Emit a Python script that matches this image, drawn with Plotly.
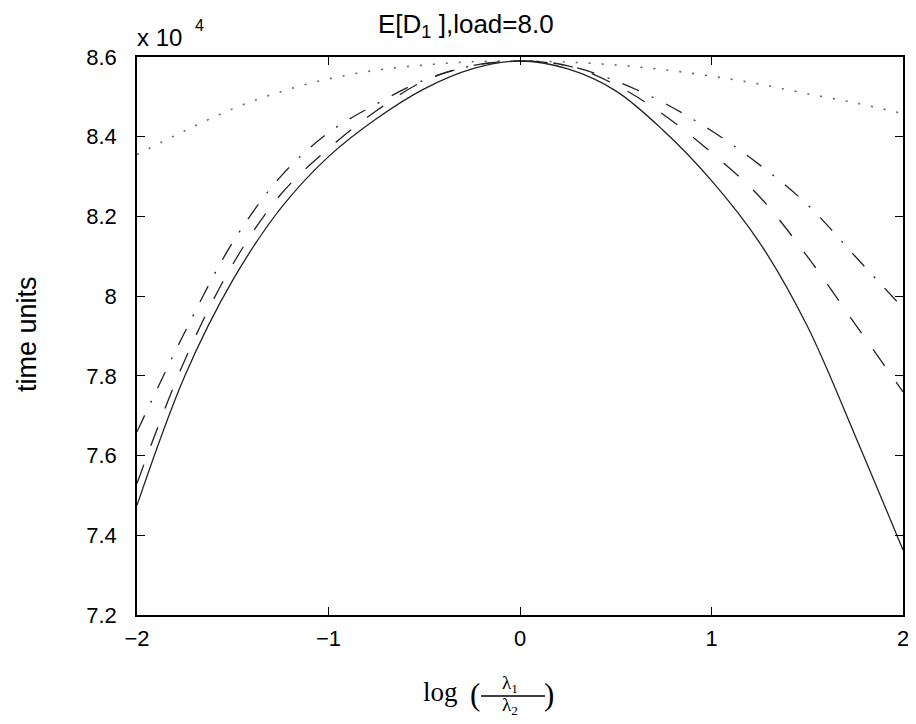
import plotly.graph_objects as go

# log(lambda1/lambda2)
x_vals = [-2, -1.75, -1.5, -1.25, -1, -0.75, -0.5, -0.25, 0, 0.25, 0.5, 0.75, 1, 1.25, 1.5, 1.75, 2]

# E[D1] in units of 10^4 time units
solid_vals = [7.475, 7.80, 8.04, 8.22, 8.35, 8.445, 8.52, 8.57, 8.59, 8.57, 8.515, 8.415, 8.29, 8.135, 7.925, 7.65, 7.363]
dashed_vals = [7.53, 7.84, 8.08, 8.255, 8.37, 8.465, 8.54, 8.578, 8.59, 8.578, 8.53, 8.455, 8.36, 8.25, 8.10, 7.93, 7.76]
dashdot_vals = [7.66, 7.91, 8.135, 8.30, 8.41, 8.482, 8.542, 8.578, 8.59, 8.578, 8.54, 8.485, 8.415, 8.33, 8.23, 8.10, 7.97]
dotted_vals = [8.355, 8.415, 8.47, 8.513, 8.545, 8.567, 8.58, 8.588, 8.59, 8.587, 8.58, 8.568, 8.552, 8.532, 8.508, 8.485, 8.458]

x_ticks = [-2, -1, 0, 1, 2]
x_ticktext = ["\u22122", "\u22121", "0", "1", "2"]
y_ticks = [7.2, 7.4, 7.6, 7.8, 8.0, 8.2, 8.4, 8.6]
y_ticktext = ["7.2", "7.4", "7.6", "7.8", "8", "8.2", "8.4", "8.6"]

title_text = "E[D<sub>1</sub> ],load=8.0"
y_title = "time units"

# page has an 8px body margin: figure starts 8px in from the window corner
OFF = 8
W, H = 908, 716
L, R, T, B = 129, 13, 49, 109
PW, PH = W - L - R, H - T - B


def px(xp):
    return (xp - OFF - L) / PW


def py(yp):
    return (H - B - (yp - OFF)) / PH


fig = go.Figure()
fig.add_trace(go.Scatter(x=x_vals, y=dotted_vals, mode="lines", line=dict(color="#666", width=1.6, dash="2px,11px", shape="spline"), showlegend=False))
fig.add_trace(go.Scatter(x=x_vals, y=dashdot_vals, mode="lines", line=dict(color="#222", width=1.3, dash="18px,14px,2px,14px", shape="spline"), showlegend=False))
fig.add_trace(go.Scatter(x=x_vals, y=dashed_vals, mode="lines", line=dict(color="#222", width=1.3, dash="20px,20px", shape="spline"), showlegend=False))
fig.add_trace(go.Scatter(x=x_vals, y=solid_vals, mode="lines", line=dict(color="#222", width=1.3, shape="spline"), showlegend=False))

axis_common = dict(
    showgrid=False, zeroline=False, showline=True, linecolor="black", linewidth=1.6,
    mirror="ticks", ticks="inside", ticklen=8, tickwidth=1.4, tickcolor="black", automargin=False,
    tickfont=dict(family="Liberation Sans, Arial, sans-serif", size=22, color="black"),
)

fig.update_layout(
    width=W, height=H,
    margin=dict(l=L, r=R, t=T, b=B),
    paper_bgcolor="white", plot_bgcolor="white",
    font=dict(family="Liberation Sans, Arial, sans-serif", color="black"),
    xaxis=dict(range=[-2, 2], tickvals=x_ticks, ticktext=x_ticktext, ticklabelstandoff=3, **axis_common),
    yaxis=dict(range=[7.2, 8.6], tickvals=y_ticks, ticktext=y_ticktext, ticklabelstandoff=14, **axis_common),
    showlegend=False,
)

sans = "Liberation Sans, Arial, sans-serif"
serif = "Liberation Serif, Times New Roman, serif"
ann = [
    dict(text=title_text, x=px(466), y=py(26), xanchor="center", yanchor="middle", font=dict(size=26, family=sans)),
    dict(text=y_title, x=px(27), y=py(334), xanchor="center", yanchor="middle", textangle=-90, font=dict(size=27, family=sans)),
    dict(text="x 10", x=px(135), y=py(37), xanchor="left", yanchor="middle", font=dict(size=24, family=sans)),
    dict(text="4", x=px(199), y=py(26), xanchor="center", yanchor="middle", font=dict(size=16, family=sans)),
    dict(text="log", x=px(421), y=py(692), xanchor="left", yanchor="middle", font=dict(size=27, family=serif)),
    dict(text="(", x=px(475), y=py(694), xanchor="center", yanchor="middle", font=dict(size=31, family=serif)),
    dict(text=")", x=px(549), y=py(694), xanchor="center", yanchor="middle", font=dict(size=31, family=serif)),
    dict(text="\u03bb<sub>1</sub>", x=px(510), y=py(684), xanchor="center", yanchor="middle", font=dict(size=19, family=serif)),
    dict(text="\u03bb<sub>2</sub>", x=px(510), y=py(706), xanchor="center", yanchor="middle", font=dict(size=19, family=serif)),
]
for a in ann:
    a.update(xref="paper", yref="paper", showarrow=False)
fig.update_layout(annotations=ann)
fig.add_shape(type="line", xref="paper", yref="paper", x0=px(481), x1=px(545), y0=py(696), y1=py(696),
              line=dict(color="black", width=1.3))

fig.write_html("out.html")
